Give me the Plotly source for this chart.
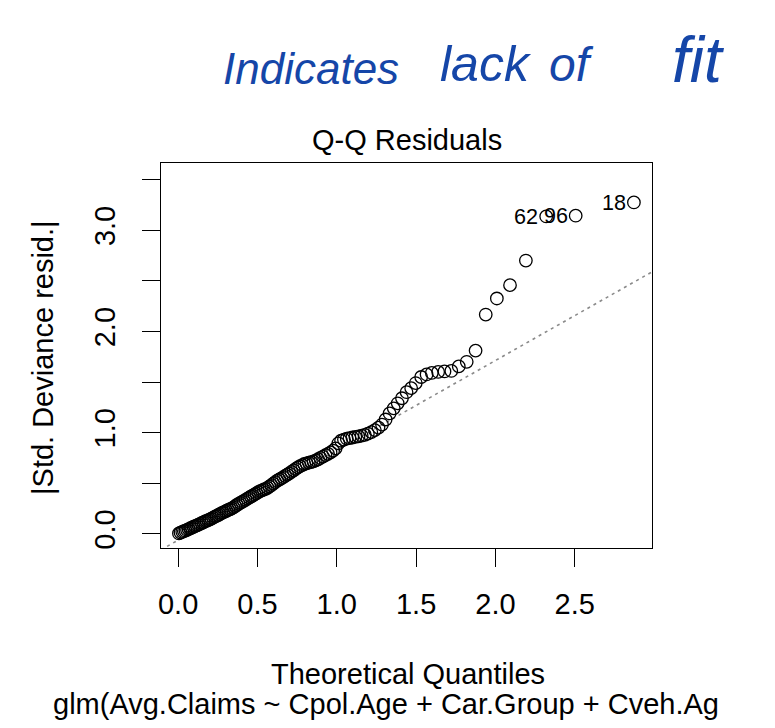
import plotly.graph_objects as go

# ---------------- data ----------------
theo_q = [
    0.005, 0.015, 0.026, 0.036, 0.046, 0.056, 0.066, 0.077, 0.087, 0.097,
    0.107, 0.118, 0.128, 0.138, 0.149, 0.159, 0.169, 0.179, 0.190, 0.200,
    0.210, 0.221, 0.232, 0.242, 0.253, 0.263, 0.274, 0.284, 0.295, 0.305,
    0.316, 0.327, 0.338, 0.349, 0.360, 0.370, 0.381, 0.392, 0.403, 0.414,
    0.425, 0.437, 0.448, 0.459, 0.470, 0.482, 0.493, 0.505, 0.517, 0.528,
    0.540, 0.552, 0.564, 0.576, 0.588, 0.600, 0.612, 0.625, 0.638, 0.650,
    0.663, 0.675, 0.688, 0.700, 0.714, 0.728, 0.741, 0.755, 0.768, 0.782,
    0.795, 0.809, 0.824, 0.838, 0.853, 0.868, 0.882, 0.897, 0.913, 0.929,
    0.945, 0.961, 0.977, 0.993, 1.010, 1.027, 1.045, 1.063, 1.080, 1.098,
    1.117, 1.137, 1.157, 1.177, 1.196, 1.218, 1.240, 1.263, 1.285, 1.308,
    1.333, 1.359, 1.384, 1.411, 1.440, 1.469, 1.498, 1.532, 1.566, 1.599,
    1.639, 1.679, 1.722, 1.769, 1.819, 1.875, 1.939, 2.009, 2.092, 2.192,
    2.320, 2.506, 2.873,
]
abs_resid = [
    0.004, 0.012, 0.020, 0.026, 0.031, 0.038, 0.046, 0.055, 0.062, 0.070,
    0.076, 0.083, 0.090, 0.098, 0.107, 0.114, 0.122, 0.128, 0.135, 0.143,
    0.151, 0.160, 0.170, 0.178, 0.186, 0.195, 0.204, 0.212, 0.220, 0.228,
    0.236, 0.243, 0.251, 0.262, 0.274, 0.285, 0.296, 0.306, 0.315, 0.325,
    0.336, 0.347, 0.358, 0.369, 0.378, 0.389, 0.400, 0.412, 0.422, 0.430,
    0.438, 0.445, 0.455, 0.468, 0.482, 0.497, 0.512, 0.525, 0.537, 0.549,
    0.560, 0.572, 0.585, 0.598, 0.612, 0.628, 0.642, 0.656, 0.668, 0.680,
    0.690, 0.697, 0.703, 0.709, 0.716, 0.726, 0.737, 0.750, 0.764, 0.778,
    0.790, 0.805, 0.822, 0.845, 0.895, 0.920, 0.932, 0.940, 0.946, 0.952,
    0.958, 0.963, 0.970, 0.978, 0.990, 1.005, 1.025, 1.050, 1.080, 1.130,
    1.190, 1.240, 1.290, 1.340, 1.400, 1.440, 1.490, 1.550, 1.575, 1.590,
    1.600, 1.605, 1.610, 1.655, 1.700, 1.811, 2.167, 2.326, 2.458, 2.701,
    3.137, 3.144, 3.275,
]
label_index = [120, 121, 122]
label_text = ["62", "96", "18"]

qq_intercept = -0.062
qq_slope = 0.8875

x_range = [-0.108, 2.987]
y_range = [-0.14, 3.665]
x_tickvals = [0.0, 0.5, 1.0, 1.5, 2.0, 2.5]
x_ticktext = ["0.0", "0.5", "1.0", "1.5", "2.0", "2.5"]
y_tickvals = [0.0, 0.5, 1.0, 1.5, 2.0, 2.5, 3.0, 3.5]
y_ticktext = ["0.0", "", "1.0", "", "2.0", "", "3.0", ""]

title_text = "Q-Q Residuals"
x_title = "Theoretical Quantiles"
y_title = "|Std. Deviance resid.|"
sub_caption = "glm(Avg.Claims ~ Cpol.Age + Car.Group + Cveh.Ag"
note_words = ["Indicates", "lack", "of", "fit"]

# ---------------- figure ----------------
FONT = "Liberation Sans, Arial, sans-serif"
W, H = 775, 728
ML, MR, MT, MB = 161, 123, 163, 180
PW, PH = W - ML - MR, H - MT - MB


def px_to_paper_x(px):
    return (px - ML) / PW


def px_to_paper_y(py):
    return (H - MB - py) / PH


fig = go.Figure()

# reference line (qqline)
fig.add_trace(go.Scatter(
    x=x_range,
    y=[qq_intercept + qq_slope * v for v in x_range],
    mode="lines",
    line=dict(color="#8a8a8a", width=1.6, dash="3px,4px"),
    hoverinfo="skip",
    showlegend=False,
))

# points
fig.add_trace(go.Scatter(
    x=theo_q,
    y=abs_resid,
    mode="markers",
    marker=dict(symbol="circle-open", size=12.5, color="black",
                line=dict(width=1.3, color="black")),
    showlegend=False,
))

annotations = []
for i, t in zip(label_index, label_text):
    annotations.append(dict(
        x=theo_q[i], y=abs_resid[i], xref="x", yref="y",
        text=t, showarrow=False, xanchor="right", yanchor="middle",
        xshift=-6, font=dict(family=FONT, size=21.6, color="black"),
    ))

annotations += [
    dict(x=px_to_paper_x(407), y=px_to_paper_y(140), xref="paper", yref="paper",
         text=title_text, showarrow=False, xanchor="center", yanchor="middle",
         font=dict(family=FONT, size=29, color="black")),
    dict(x=px_to_paper_x(408), y=px_to_paper_y(674), xref="paper", yref="paper",
         text=x_title, showarrow=False, xanchor="center", yanchor="middle",
         font=dict(family=FONT, size=29, color="black")),
    dict(x=px_to_paper_x(51), y=px_to_paper_y(704), xref="paper", yref="paper",
         text=sub_caption, showarrow=False, xanchor="left", yanchor="middle",
         font=dict(family=FONT, size=29, color="black")),
    dict(x=px_to_paper_x(42.5), y=px_to_paper_y(357.5), xref="paper", yref="paper",
         text=y_title, showarrow=False, xanchor="center", yanchor="middle",
         textangle=-90, font=dict(family=FONT, size=29, color="black")),
]

# handwritten note (rendered as real text)
note_pos = [(311, 68, 44), (486, 64, 50), (571, 64, 48), (698, 60, 64)]
for w, (cx, cy, sz) in zip(note_words, note_pos):
    annotations.append(dict(
        x=px_to_paper_x(cx), y=px_to_paper_y(cy), xref="paper", yref="paper",
        text=w, showarrow=False, xanchor="center", yanchor="middle",
        font=dict(family=FONT, size=sz, color="#1546a8", style="italic"),
    ))

axis_common = dict(
    showgrid=False, zeroline=False,
    showline=True, mirror=True, linecolor="black", linewidth=1.3,
    ticks="outside", ticklen=18, tickwidth=1.3, tickcolor="black",
    tickfont=dict(family=FONT, size=29, color="black"),
)

fig.update_layout(
    width=W, height=H,
    margin=dict(l=ML, r=MR, t=MT, b=MB, pad=0),
    paper_bgcolor="white", plot_bgcolor="white",
    xaxis=dict(range=x_range, tickmode="array", tickvals=x_tickvals,
               ticktext=x_ticktext, ticklabelstandoff=12, **axis_common),
    yaxis=dict(range=y_range, tickmode="array", tickvals=y_tickvals,
               ticktext=y_ticktext, tickangle=-90, ticklabelstandoff=15,
               **axis_common),
    annotations=annotations,
    showlegend=False,
)

fig.write_html("out.html")
